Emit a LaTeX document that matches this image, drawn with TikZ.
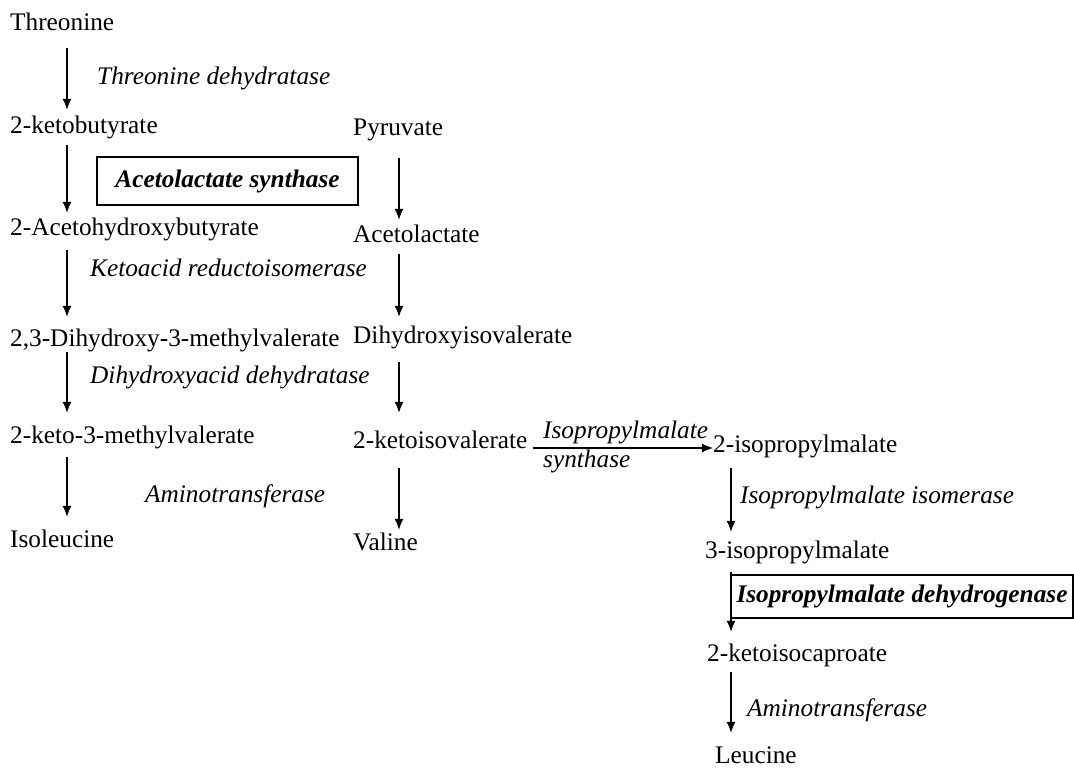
\documentclass[tikz,border=0pt]{standalone}
\usepackage{fontspec}
\setmainfont{Liberation Serif}
\usetikzlibrary{arrows.meta}
\begin{document}
\begin{tikzpicture}[x=1pt,y=1pt,
  cmp/.style={anchor=base west, inner sep=0pt, text height=18pt, text depth=6pt, font=\fontsize{25.3}{30}\selectfont},
  enz/.style={cmp, font=\fontsize{25.3}{30}\selectfont\itshape},
  keyenz/.style={draw, line width=1.3pt, inner sep=0pt, text height=18pt, text depth=6pt, font=\fontsize{25.3}{30}\selectfont\bfseries\itshape},
  arr/.style={-{Latex[length=11pt,width=9pt]}, line width=1.2pt}]
\useasboundingbox (0,0) rectangle (1074,-769);
% column coordinates
\coordinate (cA) at (67,0);
\coordinate (cB) at (399,0);
\coordinate (cC) at (731,0);
\coordinate (hy) at (0,-448);
% compounds
\node[cmp] (thr) at (10,-30) {Threonine};
\node[cmp] (kb) at (10,-133) {2-ketobutyrate};
\node[cmp] (ahb) at (10,-235) {2-Acetohydroxybutyrate};
\node[cmp] (dhmv) at (10,-346) {2,3-Dihydroxy-3-methylvalerate};
\node[cmp] (kmv) at (10,-443) {2-keto-3-methylvalerate};
\node[cmp] (ile) at (10,-547) {Isoleucine};
\node[cmp] (pyr) at (353,-135) {Pyruvate};
\node[cmp] (al) at (353,-242) {Acetolactate};
\node[cmp] (dhiv) at (353,-343) {Dihydroxyisovalerate};
\node[cmp] (kiv) at (353,-448) {2-ketoisovalerate};
\node[cmp] (val) at (353,-550) {Valine};
\node[cmp] (ipm2) at (713,-452) {2-isopropylmalate};
\node[cmp] (ipm3) at (705,-558) {3-isopropylmalate};
\node[cmp] (kic) at (707,-661) {2-ketoisocaproate};
\node[cmp] (leu) at (715,-763) {Leucine};
% enzymes
\node[enz] (e1) at (97,-84) {Threonine dehydratase};
\node[keyenz, minimum width=261pt, minimum height=48pt] (e2) at (227.5,-181) {Acetolactate synthase};
\node[enz] (e3) at (90,-276) {Ketoacid reductoisomerase};
\node[enz] (e4) at (90,-383) {Dihydroxyacid dehydratase};
\node[enz] (e5) at (145,-502) {Aminotransferase};
\node[enz] (e6a) at (543,-438) {Isopropylmalate};
\node[enz] (e6b) at (543,-467) {synthase};
\node[enz] (e7) at (740,-503) {Isopropylmalate isomerase};
\node[keyenz, minimum width=342pt, minimum height=43pt] (e8) at (902,-596.5) {Isopropylmalate dehydrogenase};
\node[enz] (e9) at (747,-716) {Aminotransferase};
% left column arrows
\draw[arr, shorten <=12pt, shorten >=5pt] (thr.south -| cA) -- (kb.north -| cA);
\draw[arr, shorten <=6pt, shorten >=4pt] (kb.south -| cA) -- (ahb.north -| cA);
\draw[arr, shorten <=9pt, shorten >=11pt] (ahb.south -| cA) -- (dhmv.north -| cA);
\draw[arr, shorten <=0pt, shorten >=12pt] (dhmv.south -| cA) -- (kmv.north -| cA);
\draw[arr, shorten <=8pt, shorten >=12pt] (kmv.south -| cA) -- (ile.north -| cA);
% middle column arrows
\draw[arr, shorten <=17pt, shorten >=4pt] (pyr.south -| cB) -- (al.north -| cB);
\draw[arr, shorten <=6pt, shorten >=8pt] (al.south -| cB) -- (dhiv.north -| cB);
\draw[arr, shorten <=13pt, shorten >=17pt] (dhiv.south -| cB) -- (kiv.north -| cB);
\draw[arr, shorten <=14pt, shorten >=2pt] (kiv.south -| cB) -- (val.north -| cB);
% horizontal arrow
\draw[arr, shorten <=5pt] (kiv.east |- hy) -- (ipm2.west |- hy);
% right column arrows
\draw[arr, shorten <=10pt, shorten >=8pt] (ipm2.south -| cC) -- (ipm3.north -| cC);
\draw[arr, shorten <=8pt, shorten >=11pt] (ipm3.south -| cC) -- (kic.north -| cC);
\draw[arr, shorten <=5pt, shorten >=12pt] (kic.south -| cC) -- (leu.north -| cC);
\end{tikzpicture}
\end{document}
